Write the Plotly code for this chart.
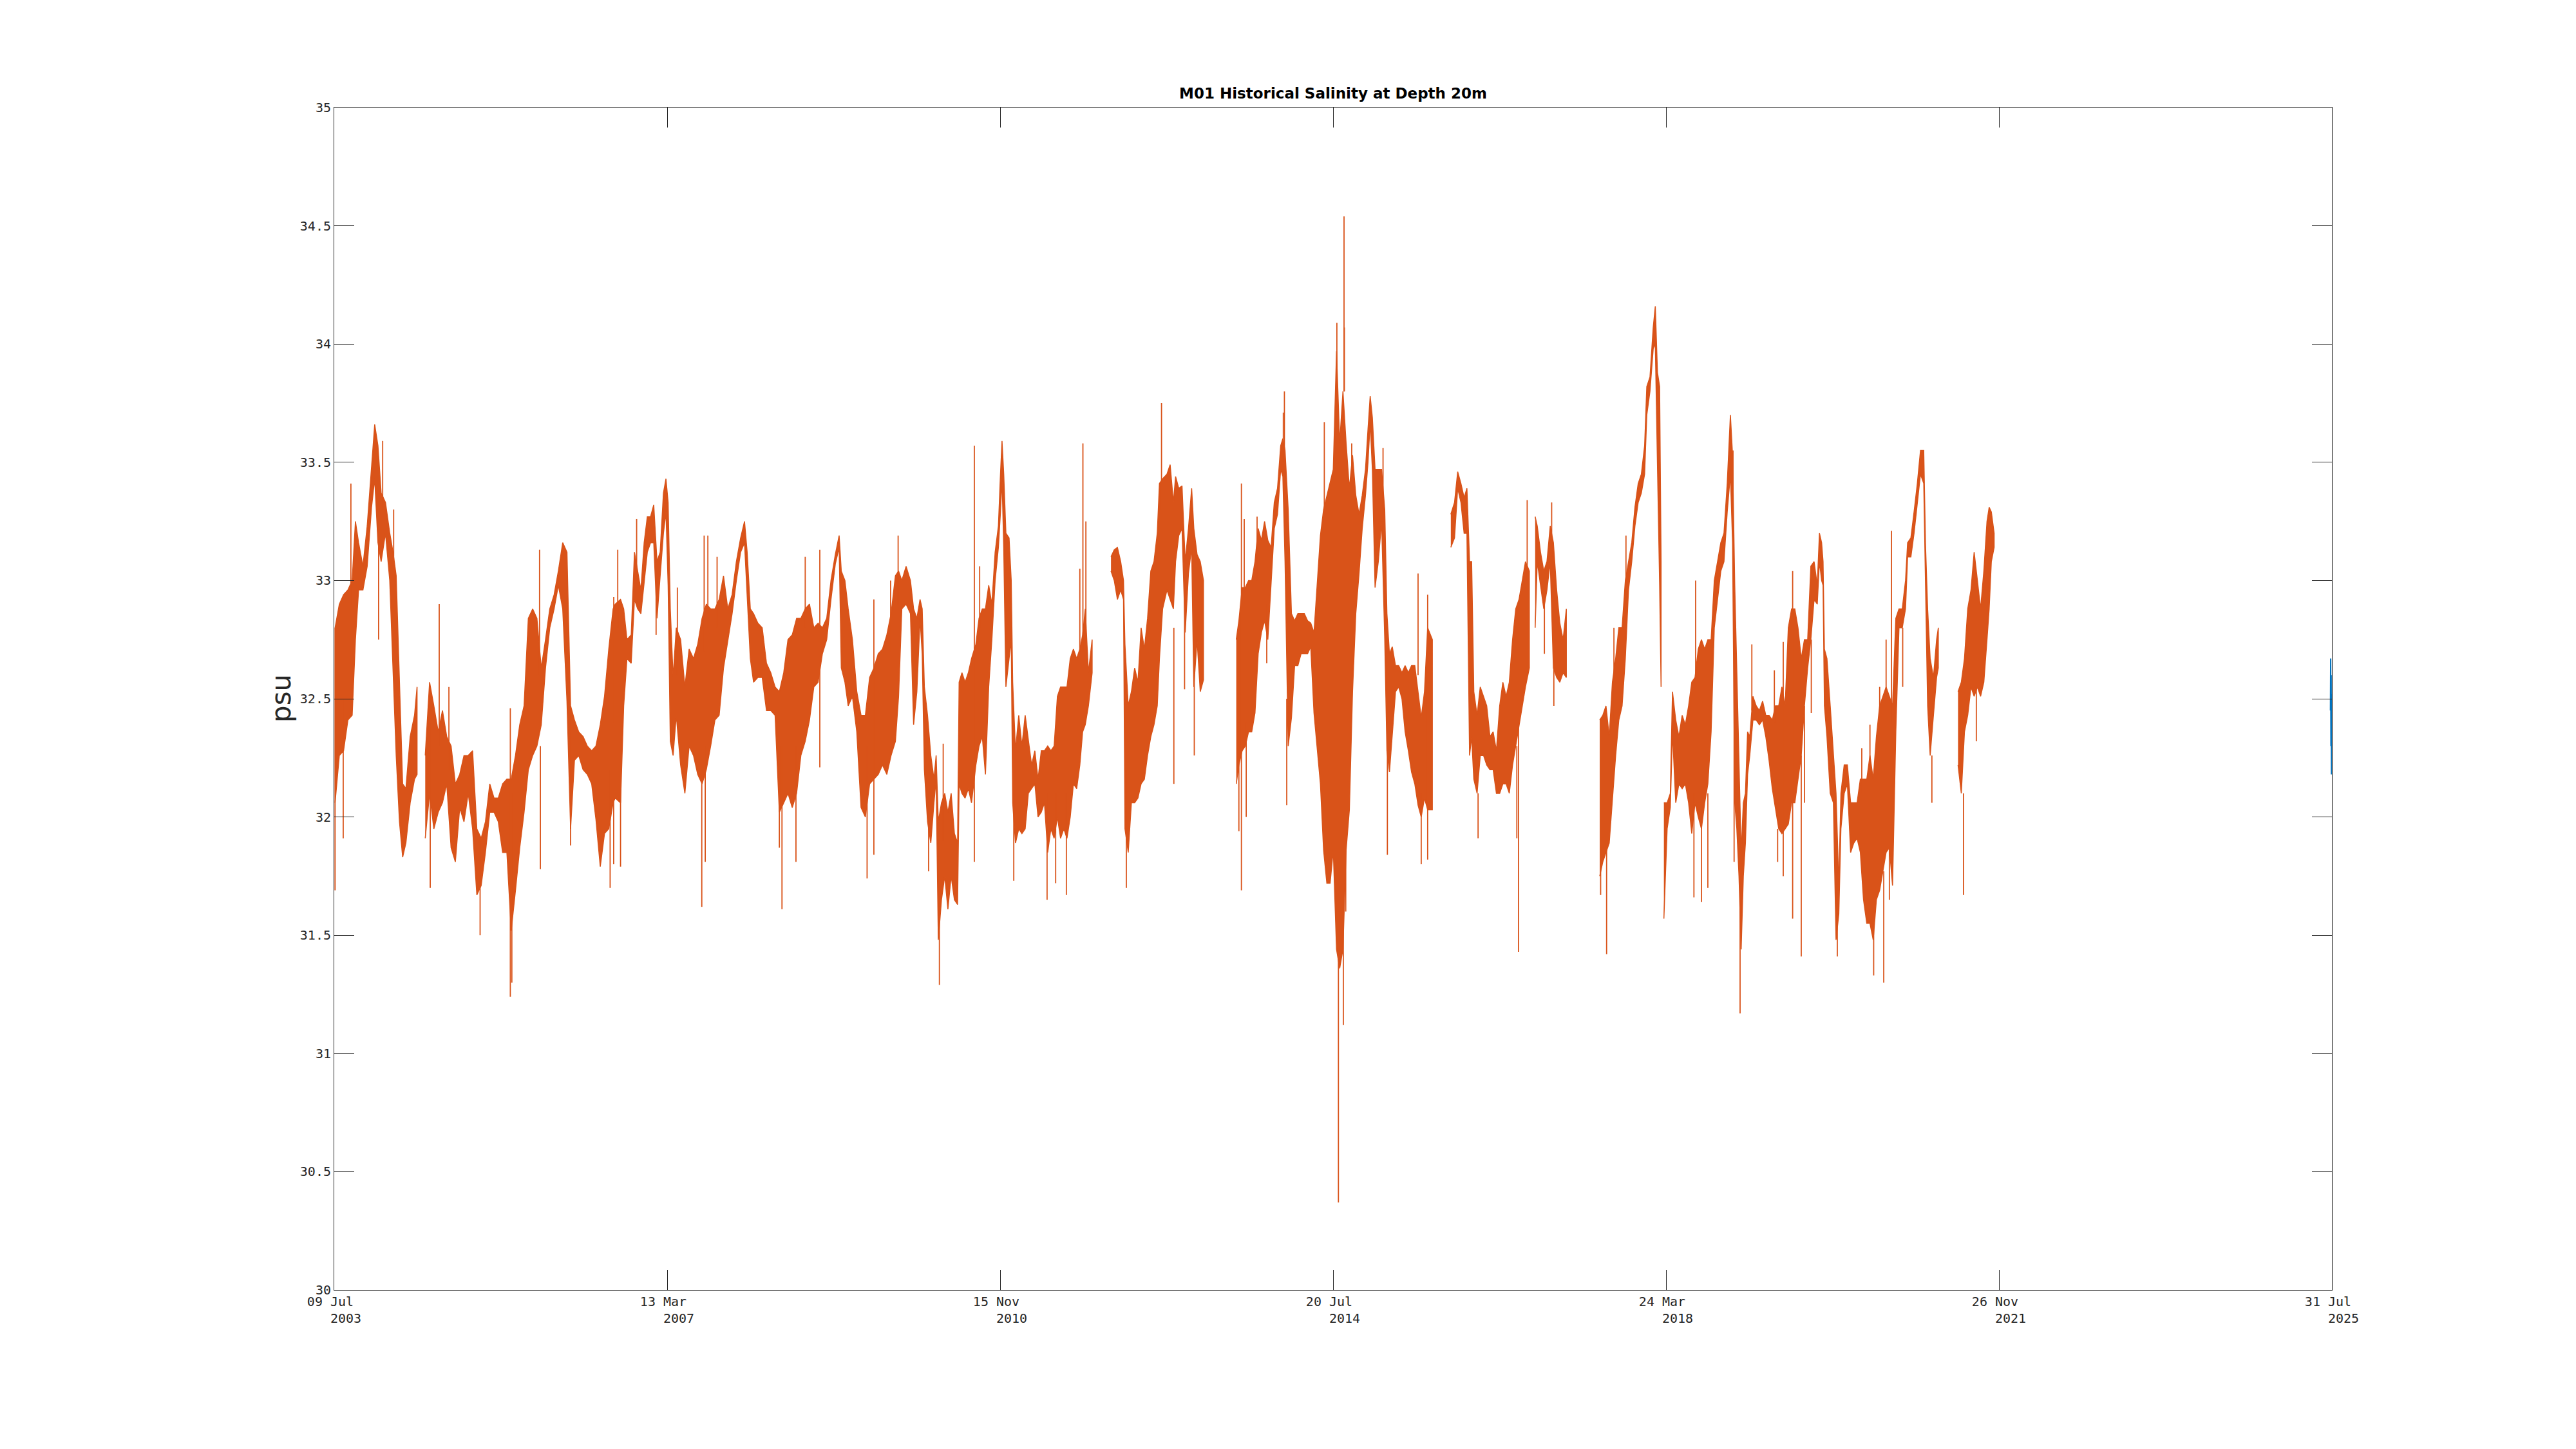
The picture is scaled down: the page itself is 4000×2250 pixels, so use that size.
import pandas as pd
import plotly.graph_objects as go

# ---------------- data ----------------
# decimal-year sample times, bulk upper / lower salinity envelope (psu); None = data gap
year = [
    2003.527, 2003.574, 2003.621, 2003.669, 2003.716, 2003.752, 2003.787, 2003.835, 2003.882, 2003.930,
    2003.965, 2004.001, 2004.036, 2004.084, 2004.131, 2004.167, 2004.202, 2004.238, 2004.273, 2004.309,
    2004.356, 2004.404, 2004.432, None,
    2004.522, 2004.570, 2004.617, 2004.665, 2004.712, 2004.759, 2004.807, 2004.854, 2004.902, 2004.949,
    2004.996, 2005.044, 2005.091, 2005.139, 2005.186, 2005.234, 2005.281, 2005.328, 2005.376, 2005.423,
    2005.471, 2005.518, 2005.565, 2005.613, 2005.660, 2005.708, 2005.755, 2005.803, 2005.850, 2005.897,
    2005.945, 2005.992, 2006.040, 2006.087, 2006.127, 2006.170, 2006.217, 2006.265, 2006.312, 2006.360,
    2006.407, 2006.455, 2006.502, 2006.549, 2006.597,
    2006.620, 2006.679, 2006.714, 2006.750, 2006.797, 2006.833, 2006.868, 2006.904, 2006.940, 2006.975,
    2007.011, 2007.046, 2007.082, 2007.117, 2007.153, 2007.181, 2007.205, 2007.229, 2007.260, 2007.295,
    2007.343, 2007.390, 2007.437, 2007.485, 2007.532, 2007.580, 2007.627, 2007.675, 2007.722, 2007.769,
    2007.817, 2007.864, 2007.912, 2007.959, 2008.006, 2008.049, 2008.078, 2008.113, 2008.149, 2008.196,
    2008.244, 2008.291, 2008.338, 2008.386, 2008.433, 2008.481, 2008.528, 2008.575, 2008.623, 2008.670,
    2008.718, 2008.765, 2008.813, 2008.860, 2008.907, 2008.955, 2009.002, 2009.050, 2009.092, 2009.116,
    2009.156, 2009.192, 2009.239, 2009.287, 2009.334, 2009.382, 2009.429, 2009.476, 2009.524, 2009.571,
    2009.619, 2009.666,
    2009.714, 2009.749, 2009.785, 2009.832, 2009.880, 2009.915, 2009.951, 2009.986, 2010.010, 2010.034,
    2010.069, 2010.105, 2010.140, 2010.164, 2010.188, 2010.223, 2010.259, 2010.294, 2010.330, 2010.366,
    2010.401, 2010.418, 2010.449, 2010.484, 2010.520, 2010.555, 2010.603, 2010.638, 2010.674, 2010.709,
    2010.745, 2010.780, 2010.816, 2010.852, 2010.875, 2010.892, 2010.911, 2010.935, 2010.970, 2010.994,
    2011.010, 2011.041, 2011.077, 2011.112, 2011.148, 2011.183, 2011.219, 2011.255, 2011.290, 2011.326,
    2011.361, 2011.397, 2011.432, 2011.468, 2011.504, 2011.539, 2011.575, 2011.610, 2011.646, 2011.681,
    2011.717, 2011.752, 2011.783, 2011.812, 2011.847, 2011.888, None,
    2012.096, 2012.132, 2012.167, 2012.203, 2012.234, 2012.250, 2012.286, 2012.321, 2012.357, 2012.393,
    2012.428, 2012.464, 2012.499, 2012.535, 2012.570, 2012.606, 2012.630, 2012.665, 2012.713, 2012.748,
    2012.784, 2012.808, 2012.843, 2012.879, 2012.914, 2012.950, 2012.985, 2013.009, 2013.045, 2013.080,
    2013.116, None,
    2013.478, 2013.507, 2013.543, 2013.578, 2013.614, 2013.649, 2013.685, 2013.720, 2013.756, 2013.791,
    2013.827, 2013.863, 2013.898, 2013.934, 2013.969, 2013.993, 2014.017, 2014.052, 2014.088, 2014.123,
    2014.159, 2014.194, 2014.230, 2014.266, 2014.301, 2014.337, 2014.372, 2014.408, 2014.443, 2014.479,
    2014.515, 2014.550, 2014.586, 2014.621, 2014.657, 2014.692, 2014.728, 2014.763, 2014.799, 2014.835,
    2014.870, 2014.906, 2014.934, 2014.958, 2014.982, 2015.012, 2015.048, 2015.084, 2015.119, 2015.143,
    2015.171, 2015.202, 2015.238, 2015.273, 2015.309, 2015.344, 2015.380, 2015.415, 2015.451, 2015.487,
    2015.522, 2015.558, 2015.593, 2015.645, None,
    2015.849, 2015.890, 2015.925, 2015.961, 2015.996, 2016.027, 2016.056, 2016.079, 2016.103, 2016.139,
    2016.174, 2016.210, 2016.245, 2016.281, 2016.316, 2016.352, 2016.388, 2016.423, 2016.459, 2016.494,
    2016.530, 2016.565, 2016.601, 2016.637, 2016.672, 2016.715, None,
    2016.779, 2016.802, 2016.838, 2016.874, 2016.909, 2016.945, 2016.980, 2017.016, 2017.051, 2017.087,
    2017.123, None,
    2017.492, 2017.526, 2017.561, 2017.597, 2017.632, 2017.668, 2017.703, 2017.739, 2017.775, 2017.810,
    2017.846, 2017.881, 2017.917, 2017.952, 2017.988, 2018.012, 2018.047, 2018.083, 2018.106, 2018.130,
    2018.154, 2018.170, None,
    2018.201, 2018.237, 2018.272, 2018.296, 2018.332, 2018.367, 2018.403, 2018.438, 2018.474, 2018.509,
    2018.545, 2018.581, 2018.616, 2018.652, 2018.687, 2018.723, 2018.758, 2018.794, 2018.830, 2018.865,
    2018.901, 2018.936, 2018.960,
    2018.984, 2019.007, 2019.031, 2019.055, 2019.079, 2019.102, 2019.126, 2019.150, 2019.185, 2019.221,
    2019.256, 2019.292, 2019.327, 2019.363, 2019.399, 2019.434, 2019.470, 2019.505, 2019.541, 2019.576,
    2019.612, 2019.648, 2019.683, 2019.719, 2019.754, 2019.790, 2019.825, 2019.861, 2019.896, 2019.920,
    2019.944, 2019.960, 2019.975, 2020.003, 2020.039, 2020.074, 2020.103, 2020.134, 2020.157, 2020.193,
    2020.228, 2020.264, 2020.299, 2020.335, 2020.371, 2020.406, 2020.442, 2020.477, 2020.513, 2020.548,
    2020.584, 2020.620, 2020.655, 2020.691, 2020.726, 2020.762, 2020.797, 2020.833, 2020.869, 2020.892,
    2020.928, 2020.963, 2020.999, 2021.034, 2021.070, 2021.089, 2021.113, 2021.141, 2021.177, 2021.212,
    2021.231, None,
    2021.449, 2021.485, 2021.520, 2021.556, 2021.592, 2021.627, 2021.663, 2021.698, 2021.734, 2021.769,
    2021.793, 2021.817, 2021.848,
]

sal_max = [
    32.80, 32.90, 32.94, 32.96, 33.00, 33.25, 33.16, 33.06, 33.23, 33.49,
    33.66, 33.57, 33.37, 33.33, 33.20, 33.12, 33.02, 32.57, 32.14, 32.12,
    32.34, 32.43, 32.55, None,
    32.26, 32.57, 32.47, 32.36, 32.45, 32.34, 32.30, 32.14, 32.18, 32.26,
    32.26, 32.28, 31.95, 31.91, 31.98, 32.14, 32.08, 32.08, 32.14, 32.16,
    32.16, 32.26, 32.39, 32.47, 32.84, 32.88, 32.84, 32.63, 32.75, 32.88,
    32.94, 33.04, 33.16, 33.12, 32.47, 32.41, 32.36, 32.34, 32.30, 32.28,
    32.30, 32.39, 32.51, 32.71, 32.88,
    32.90, 32.92, 32.88, 32.75, 32.77, 33.12, 33.04, 32.96, 33.16, 33.27,
    33.27, 33.32, 33.08, 33.12, 33.37, 33.43, 33.33, 32.88, 32.59, 32.80,
    32.75, 32.55, 32.71, 32.67, 32.73, 32.84, 32.90, 32.88, 32.88, 32.92,
    33.02, 32.88, 32.94, 33.08, 33.18, 33.25, 33.12, 32.88, 32.86, 32.82,
    32.80, 32.65, 32.61, 32.55, 32.53, 32.61, 32.75, 32.77, 32.84, 32.84,
    32.88, 32.90, 32.80, 32.82, 32.80, 32.84, 33.00, 33.11, 33.19, 33.04,
    33.00, 32.88, 32.75, 32.53, 32.43, 32.43, 32.59, 32.63, 32.69, 32.71,
    32.77, 32.86,
    33.02, 33.04, 33.00, 33.06, 33.00, 32.88, 32.84, 32.92, 32.88, 32.55,
    32.43, 32.26, 32.16, 32.26, 31.98, 32.06, 32.10, 32.02, 32.10, 31.93,
    31.89, 32.57, 32.61, 32.57, 32.61, 32.67, 32.73, 32.84, 32.88, 32.88,
    32.98, 32.90, 33.12, 33.23, 33.45, 33.59, 33.45, 33.20, 33.18, 33.00,
    32.57, 32.28, 32.43, 32.30, 32.43, 32.32, 32.22, 32.28, 32.16, 32.28,
    32.28, 32.30, 32.28, 32.30, 32.51, 32.55, 32.55, 32.55, 32.67, 32.71,
    32.67, 32.71, 32.77, 32.88, 32.61, 32.75, None,
    33.10, 33.13, 33.14, 33.08, 33.00, 32.73, 32.47, 32.53, 32.63, 32.57,
    32.80, 32.71, 32.84, 33.04, 33.08, 33.20, 33.41, 33.43, 33.45, 33.49,
    33.33, 33.44, 33.39, 33.40, 33.08, 33.22, 33.39, 33.22, 33.11, 33.08,
    33.00, None,
    32.75, 32.83, 32.97, 32.97, 33.00, 33.00, 33.08, 33.22, 33.17, 33.25,
    33.17, 33.14, 33.33, 33.39, 33.57, 33.60, 33.55, 33.30, 32.86, 32.83,
    32.86, 32.86, 32.86, 32.83, 32.82, 32.78, 32.97, 33.19, 33.30, 33.36,
    33.42, 33.47, 33.97, 33.58, 33.80, 33.58, 33.39, 33.53, 33.36, 33.28,
    33.36, 33.47, 33.64, 33.78, 33.69, 33.47, 33.47, 33.47, 33.30, 32.86,
    32.69, 32.72, 32.64, 32.64, 32.61, 32.64, 32.61, 32.64, 32.64, 32.53,
    32.42, 32.53, 32.80, 32.75, None,
    33.28, 33.33, 33.46, 33.41, 33.35, 33.39, 33.08, 33.08, 32.53, 32.43,
    32.55, 32.51, 32.47, 32.34, 32.36, 32.28, 32.47, 32.57, 32.51, 32.57,
    32.75, 32.88, 32.92, 33.00, 33.08, 33.04, None,
    33.27, 33.23, 33.12, 33.04, 33.08, 33.23, 33.16, 32.96, 32.82, 32.75,
    32.88, None,
    32.41, 32.43, 32.47, 32.34, 32.57, 32.67, 32.80, 32.80, 33.00, 33.08,
    33.16, 33.31, 33.41, 33.45, 33.57, 33.82, 33.86, 34.07, 34.16, 33.88,
    33.82, 33.08, None,
    32.06, 32.06, 32.10, 32.53, 32.41, 32.34, 32.43, 32.39, 32.47, 32.57,
    32.59, 32.71, 32.75, 32.71, 32.75, 32.75, 33.00, 33.08, 33.16, 33.20,
    33.41, 33.70, 33.53,
    32.98, 32.63, 32.26, 31.85, 32.06, 32.10, 32.36, 32.34, 32.51, 32.47,
    32.45, 32.49, 32.43, 32.43, 32.41, 32.47, 32.47, 32.55, 32.47, 32.80,
    32.88, 32.88, 32.80, 32.67, 32.75, 32.75, 33.06, 33.08, 32.98, 33.20,
    33.16, 33.08, 32.71, 32.67, 32.47, 32.26, 32.10, 31.71, 32.10, 32.22,
    32.22, 32.06, 32.06, 32.06, 32.16, 32.16, 32.16, 32.26, 32.16, 32.34,
    32.47, 32.51, 32.55, 32.51, 32.47, 32.84, 32.88, 32.88, 33.00, 33.16,
    33.18, 33.29, 33.41, 33.55, 33.55, 33.16, 32.88, 32.67, 32.59, 32.75,
    32.80, None,
    32.53, 32.57, 32.67, 32.88, 32.96, 33.12, 33.00, 32.88, 33.04, 33.25,
    33.31, 33.29, 33.20,
]

sal_min = [
    32.06, 32.26, 32.28, 32.41, 32.43, 32.75, 32.96, 32.96, 33.06, 33.31,
    33.43, 33.16, 33.08, 33.20, 33.00, 32.63, 32.26, 31.98, 31.83, 31.89,
    32.06, 32.16, 32.18, None,
    31.91, 32.10, 31.95, 32.02, 32.06, 32.14, 31.87, 31.81, 32.04, 31.98,
    32.10, 31.95, 31.67, 31.71, 31.85, 32.02, 32.02, 31.98, 31.85, 31.85,
    31.52, 31.69, 31.87, 32.02, 32.20, 32.26, 32.30, 32.39, 32.63, 32.80,
    32.88, 32.98, 32.88, 32.49, 31.95, 32.24, 32.26, 32.20, 32.18, 32.14,
    31.99, 31.79, 31.93, 31.95, 32.06,
    32.08, 32.06, 32.47, 32.67, 32.65, 32.92, 32.88, 32.86, 33.00, 33.12,
    33.16, 33.16, 32.84, 33.02, 33.20, 33.29, 32.98, 32.32, 32.26, 32.43,
    32.22, 32.10, 32.30, 32.26, 32.18, 32.14, 32.20, 32.30, 32.41, 32.43,
    32.63, 32.75, 32.86, 33.00, 33.12, 33.16, 32.92, 32.67, 32.57, 32.59,
    32.59, 32.45, 32.45, 32.43, 32.02, 32.06, 32.10, 32.04, 32.10, 32.26,
    32.32, 32.41, 32.55, 32.57, 32.69, 32.75, 32.92, 33.07, 33.14, 32.63,
    32.57, 32.47, 32.51, 32.36, 32.04, 32.00, 32.14, 32.16, 32.18, 32.22,
    32.18, 32.26,
    32.32, 32.51, 32.88, 32.90, 32.86, 32.39, 32.53, 32.84, 32.69, 32.20,
    31.98, 31.89, 32.06, 32.16, 31.48, 31.65, 31.75, 31.61, 31.75, 31.65,
    31.63, 32.14, 32.10, 32.08, 32.12, 32.06, 32.22, 32.30, 32.34, 32.18,
    32.55, 32.75, 33.00, 33.14, 33.29, 33.43, 33.14, 32.55, 32.67, 32.75,
    32.06, 31.89, 31.95, 31.93, 31.95, 32.10, 32.12, 32.14, 32.00, 32.02,
    32.06, 31.85, 31.95, 31.91, 32.00, 31.91, 31.95, 31.91, 32.00, 32.14,
    32.12, 32.22, 32.36, 32.39, 32.47, 32.61, None,
    33.04, 33.00, 32.92, 32.96, 32.92, 31.95, 31.85, 32.06, 32.06, 32.08,
    32.14, 32.16, 32.26, 32.34, 32.39, 32.47, 32.67, 32.88, 32.96, 32.92,
    32.88, 33.08, 33.19, 33.22, 32.78, 33.03, 33.14, 32.55, 32.75, 32.53,
    32.58, None,
    32.14, 32.22, 32.28, 32.30, 32.36, 32.36, 32.44, 32.69, 32.78, 32.83,
    32.75, 32.97, 33.22, 33.28, 33.47, 33.44, 33.08, 32.30, 32.42, 32.64,
    32.64, 32.69, 32.69, 32.69, 32.72, 32.44, 32.30, 32.14, 31.86, 31.72,
    31.72, 31.86, 31.44, 31.36, 31.44, 31.86, 32.03, 32.53, 32.86, 33.03,
    33.22, 33.36, 33.50, 33.67, 33.47, 32.97, 33.08, 33.25, 32.75, 32.28,
    32.19, 32.36, 32.53, 32.55, 32.50, 32.36, 32.28, 32.19, 32.14, 32.05,
    32.00, 32.08, 32.03, 32.03, None,
    33.14, 33.18, 33.39, 33.33, 33.20, 33.20, 32.26, 32.34, 32.16, 32.10,
    32.26, 32.26, 32.22, 32.20, 32.20, 32.10, 32.10, 32.14, 32.14, 32.10,
    32.22, 32.30, 32.39, 32.47, 32.55, 32.63, None,
    32.80, 33.08, 32.98, 32.88, 32.96, 33.08, 32.63, 32.59, 32.57, 32.61,
    32.59, None,
    31.75, 31.81, 31.85, 31.89, 32.06, 32.26, 32.41, 32.47, 32.67, 32.96,
    33.08, 33.23, 33.33, 33.37, 33.45, 33.70, 33.80, 33.98, 34.00, 33.51,
    32.98, 32.55, None,
    31.57, 31.95, 32.04, 32.36, 32.06, 32.14, 32.12, 32.14, 32.06, 31.93,
    32.06, 32.00, 31.95, 32.06, 32.14, 32.36, 32.80, 32.92, 33.04, 33.08,
    33.29, 33.45, 33.16,
    32.06, 31.95, 31.75, 31.44, 31.75, 31.89, 32.18, 32.26, 32.41, 32.41,
    32.39, 32.41, 32.34, 32.24, 32.12, 32.04, 31.95, 31.93, 31.95, 31.97,
    32.06, 32.06, 32.16, 32.26, 32.47, 32.63, 32.75, 32.92, 32.90, 33.08,
    33.00, 32.98, 32.47, 32.34, 32.10, 32.06, 31.48, 31.59, 31.95, 32.10,
    32.14, 31.85, 31.89, 31.91, 31.85, 31.65, 31.55, 31.55, 31.48, 31.65,
    31.69, 31.77, 31.85, 31.87, 31.71, 32.36, 32.80, 32.80, 32.88, 33.10,
    33.10, 33.20, 33.33, 33.45, 33.41, 32.96, 32.47, 32.26, 32.43, 32.59,
    32.63, None,
    32.22, 32.10, 32.36, 32.43, 32.55, 32.51, 32.55, 32.51, 32.57, 32.75,
    32.88, 33.08, 33.14,
]

# isolated spikes: decimal year, top, bottom (psu)
spike_year = [
    2003.527, 2003.617, 2003.702, 2004.008, 2004.053, 2004.174, 2004.577, 2004.676, 2004.783, 2005.127,
    2005.461, 2005.478, 2005.784, 2005.793, 2006.127, 2006.564, 2006.604,
    2006.603, 2006.648, 2006.679, 2006.857, 2007.072, 2007.307, 2007.577, 2007.603, 2007.644, 2007.615,
    2007.746, 2008.433, 2008.462, 2008.616, 2008.718, 2008.879, 2009.401, 2009.476, 2009.661,
    2009.744, 2010.081, 2010.200, 2010.242, 2010.586, 2010.645, 2011.022, 2011.390, 2011.485, 2011.603,
    2011.752, 2011.786, 2011.819, 2012.265, 2012.653, 2012.789,
    2012.907, 2013.014, 2013.507, 2013.535, 2013.566, 2013.588, 2013.708, 2013.815, 2013.998, 2014.010,
    2014.036, 2014.451, 2014.590, 2014.607, 2014.661, 2014.669, 2014.673, 2014.688, 2014.754, 2015.100,
    2015.148, 2015.487, 2015.522, 2015.593,
    2016.150, 2016.577, 2016.596, 2016.691, 2016.881, 2016.961, 2016.985, 2017.502, 2017.568, 2017.649,
    2017.782, 2018.533, 2018.552, 2018.616, 2018.687, 2018.977,
    2018.965, 2019.043, 2019.173, 2019.422, 2019.458, 2019.520, 2019.624, 2019.719, 2019.754, 2019.830,
    2020.117, 2020.387, 2020.477, 2020.518, 2020.584, 2020.629, 2020.655, 2020.714, 2020.691, 2020.838,
    2021.160, 2021.509, 2021.651,
]
spike_top = [
    32.80, 32.50, 33.41, 33.20, 33.59, 33.30, 32.40, 32.90, 32.55, 31.90,
    32.46, 32.10, 33.13, 32.30, 32.47, 32.20, 32.93,
    32.30, 33.13, 32.30, 33.26, 33.00, 32.97, 32.30, 33.19, 33.19, 32.30,
    33.10, 32.30, 32.30, 32.30, 33.10, 33.13, 32.30, 32.92, 33.00,
    33.19, 32.10, 31.90, 32.31, 33.57, 33.06, 32.10, 32.10, 32.10, 32.10,
    33.05, 33.58, 33.25, 32.20, 33.75, 32.80,
    33.00, 32.60, 32.40, 33.41, 33.26, 32.40, 33.27, 32.90, 33.71, 33.80,
    32.50, 33.67, 34.09, 31.60, 31.60, 34.54, 34.07, 31.90, 33.58, 33.56,
    32.40, 33.03, 32.10, 32.94,
    32.10, 32.30, 32.40, 33.34, 32.90, 33.33, 32.70, 31.80, 31.90, 32.80,
    33.19, 32.10, 33.00, 32.00, 32.10, 32.90,
    33.55, 31.75, 32.73, 32.62, 31.95, 32.74, 33.04, 32.26, 32.47, 32.75,
    31.60, 32.29, 32.39, 31.55, 32.55, 31.77, 32.75, 33.21, 31.87, 32.80,
    32.26, 32.10, 32.55,
]
spike_bottom = [
    31.69, 31.91, 32.90, 32.75, 33.30, 33.00, 31.70, 32.30, 32.20, 31.50,
    31.24, 31.30, 32.60, 31.78, 31.88, 31.70, 32.40,
    31.80, 32.80, 31.79, 33.00, 32.77, 32.60, 31.62, 32.70, 32.80, 31.81,
    32.80, 31.87, 31.61, 31.81, 32.80, 32.21, 31.74, 31.84, 32.70,
    32.90, 31.77, 31.29, 31.90, 31.81, 32.80, 31.73, 31.65, 31.72, 31.67,
    32.70, 32.70, 32.80, 31.70, 33.30, 32.14,
    32.54, 32.26, 31.94, 31.69, 32.90, 32.00, 33.00, 32.65, 33.50, 33.50,
    32.05, 33.20, 33.80, 30.37, 31.12, 33.80, 33.80, 31.60, 33.40, 33.30,
    31.84, 32.60, 31.80, 31.82,
    31.91, 31.91, 31.43, 33.00, 32.69, 33.10, 32.47, 31.67, 31.42, 32.40,
    32.90, 31.66, 32.60, 31.64, 31.70, 31.81,
    33.20, 31.17, 32.45, 32.40, 31.81, 31.75, 31.57, 31.41, 32.06, 32.44,
    31.41, 32.10, 32.20, 31.33, 32.30, 31.30, 32.50, 32.40, 31.65, 32.55,
    32.06, 31.67, 32.32,
]

# most recent record (second series at the right edge)
recent_date = ["2025-07-25", "2025-07-26", "2025-07-27", "2025-07-28", "2025-07-29", "2025-07-30", "2025-07-31"]
recent_sal = [32.45, 32.67, 32.30, 32.60, 32.18, 32.52, 32.40]

# axis ticks
tick_dates = ["2003-07-09", "2007-03-13", "2010-11-15", "2014-07-20", "2018-03-24", "2021-11-26", "2025-07-31"]
tick_daymon = ["09 Jul", "13 Mar", "15 Nov", "20 Jul", "24 Mar", "26 Nov", "31 Jul"]
tick_years = ["2003", "2007", "2010", "2014", "2018", "2021", "2025"]
y_ticks = [30, 30.5, 31, 31.5, 32, 32.5, 33, 33.5, 34, 34.5, 35]

# ---------------- helpers ----------------
def to_dt(y):
    yr = int(y)
    start = pd.Timestamp(yr, 1, 1)
    end = pd.Timestamp(yr + 1, 1, 1)
    return start + (end - start) * (y - yr)

ORANGE = "#D95319"
BLUE = "#0072BD"
AXC = "#262626"
NB = "\u00a0"
PAGE_OFF = 8  # browser default body margin

# build filled envelope polygons (one per continuous segment)
segs, cur = [], []
for t, h, l in zip(year, sal_max, sal_min):
    if t is None:
        if cur:
            segs.append(cur)
        cur = []
    else:
        cur.append((t, h, l))
if cur:
    segs.append(cur)

px, py = [], []
for s in segs:
    ts = [to_dt(p[0]) for p in s]
    px += ts + ts[::-1] + [None]
    py += [p[1] for p in s] + [p[2] for p in s][::-1] + [None]

sx, sy = [], []
for t, a, b in zip(spike_year, spike_top, spike_bottom):
    d = to_dt(t)
    sx += [d, d, None]
    sy += [b, a, None]

fig = go.Figure()
fig.add_trace(go.Scatter(x=px, y=py, mode="lines", fill="toself", fillcolor=ORANGE,
                         line=dict(color=ORANGE, width=1.5), hoverinfo="skip", showlegend=False))
fig.add_trace(go.Scatter(x=sx, y=sy, mode="lines", line=dict(color=ORANGE, width=1.8),
                         hoverinfo="skip", showlegend=False))
fig.add_trace(go.Scatter(x=recent_date, y=recent_sal, mode="lines", line=dict(color=BLUE, width=2),
                         hoverinfo="skip", showlegend=False))

xt_text = [f"{dm}{NB}<br>{NB}{NB}{NB}{yy}" for dm, yy in zip(tick_daymon, tick_years)]

fig.update_layout(
    width=4000, height=2250,
    margin=dict(l=519 - PAGE_OFF, r=379 + PAGE_OFF, t=167 - PAGE_OFF, b=247 + PAGE_OFF),
    paper_bgcolor="white", plot_bgcolor="white",
    showlegend=False,
    title=dict(text="<b>M01 Historical Salinity at Depth 20m</b>",
               x=0.5, xref="paper", xanchor="center",
               y=1 - (145 - PAGE_OFF) / 2250, yref="container", yanchor="middle",
               font=dict(family="DejaVu Sans", size=23, color="black")),
    xaxis=dict(type="date", range=["2003-07-09", "2025-07-31"],
               tickmode="array", tickvals=tick_dates, ticktext=xt_text,
               ticks="inside", ticklen=31, tickwidth=1, tickcolor=AXC,
               showline=True, linecolor=AXC, linewidth=1, mirror="ticks",
               showgrid=False, zeroline=False,
               tickfont=dict(family="DejaVu Sans Mono", size=20, color=AXC)),
    yaxis=dict(range=[30, 35], tickmode="array", tickvals=y_ticks,
               ticktext=[f"{v:g}" for v in y_ticks],
               ticks="inside", ticklen=31, tickwidth=1, tickcolor=AXC,
               showline=True, linecolor=AXC, linewidth=1, mirror="ticks",
               showgrid=False, zeroline=False,
               tickfont=dict(family="DejaVu Sans Mono", size=20, color=AXC)),
    annotations=[dict(text="psu", textangle=-90, xref="paper", yref="paper",
                      x=(436 - 519) / 3102, y=0.5, xanchor="center", yanchor="middle",
                      showarrow=False, font=dict(family="DejaVu Sans", size=42, color=AXC))],
)

fig.write_html("out.html")
